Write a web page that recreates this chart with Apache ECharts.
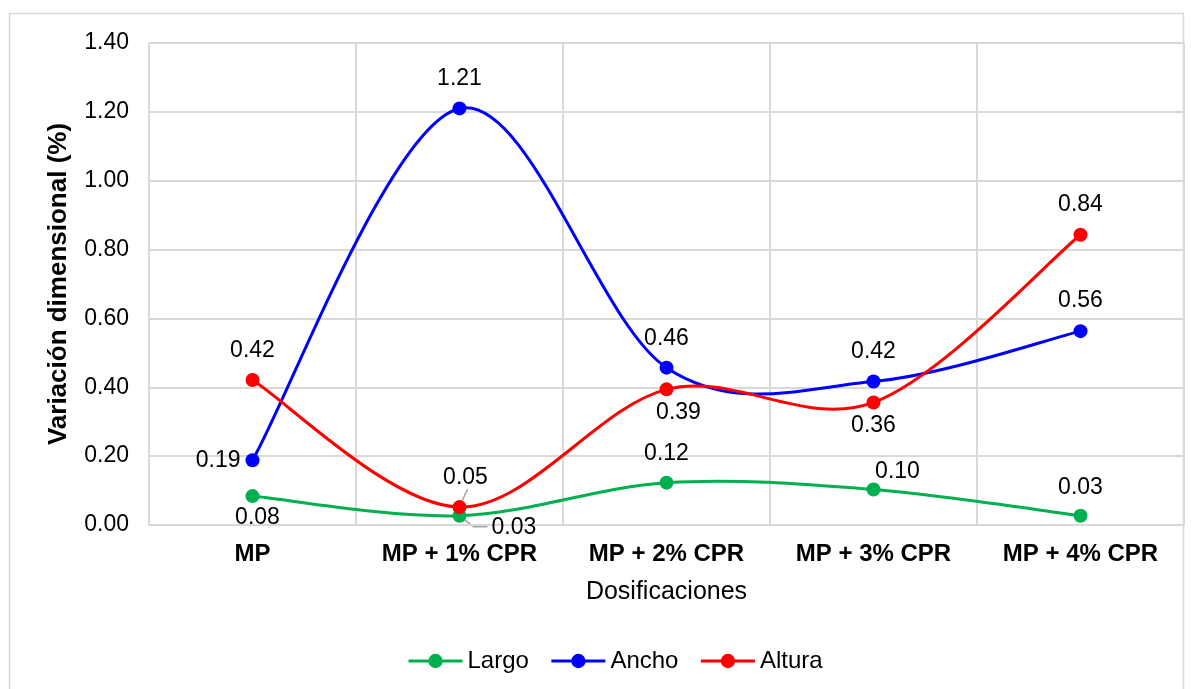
<!DOCTYPE html>
<html>
<head>
<meta charset="utf-8">
<script src="https://cdn.jsdelivr.net/npm/echarts@6/dist/echarts.min.js"></script>
<style>html,body{margin:0;padding:0;background:#fff}#c{width:1200px;height:689px}</style>
</head>
<body>
<div id="c"></div>
<script>
const categories = ['MP', 'MP + 1% CPR', 'MP + 2% CPR', 'MP + 3% CPR', 'MP + 4% CPR'];
const seriesNames = ['Largo', 'Ancho', 'Altura'];
const largo = [0.084, 0.027, 0.123, 0.103, 0.027];
const ancho = [0.188, 1.21, 0.457, 0.417, 0.563];
const altura = [0.421, 0.052, 0.394, 0.356, 0.843];
const yTicks = { min: 0, max: 1.4, interval: 0.2 };

// label placement (style, kept apart from data)
const largoLabelPos = [['bottom', [5, -2]], ['right', [20, 12]], ['top', [0, -5]], ['top', [24, 6]], ['top', [0, -5]]];
const anchoLabelPos = [['left', [0, 0]], ['top', [0, -6]], ['top', [0, -6]], ['top', [0, -6]], ['top', [0, -7]]];
const alturaLabelPos = [['top', [0, -6]], ['top', [6, -6]], ['bottom', [12, 0]], ['bottom', [0, 0]], ['top', [0, -7]]];

const FONT = "'Liberation Sans', Arial, sans-serif";
const FS = 23;

function buildData(vals, pos) {
  return vals.map((v, i) => ({
    value: v,
    label: { position: pos[i][0], offset: pos[i][1] }
  }));
}

// Smoothed curve (Catmull-Rom style, as spreadsheet "smoothed line") through the axis scales
function curveSeries(name, vals, color) {
  return {
    name: name + ' (curva)',
    type: 'custom',
    silent: true,
    data: vals.map((v, i) => [i, v]),
    renderItem: function (params, api) {
      if (params.dataIndex !== 0) return null;
      const P = vals.map((v, i) => api.coord([i, v]));
      const n = P.length;
      const g = k => P[Math.max(0, Math.min(n - 1, k))];
      let d = 'M' + P[0][0] + ' ' + P[0][1];
      for (let i = 0; i < n - 1; i++) {
        const p0 = g(i - 1), p1 = g(i), p2 = g(i + 1), p3 = g(i + 2);
        const c1 = [p1[0] + (p2[0] - p0[0]) / 6, p1[1] + (p2[1] - p0[1]) / 6];
        const c2 = [p2[0] - (p3[0] - p1[0]) / 6, p2[1] - (p3[1] - p1[1]) / 6];
        d += ' C' + c1[0] + ' ' + c1[1] + ' ' + c2[0] + ' ' + c2[1] + ' ' + p2[0] + ' ' + p2[1];
      }
      return {
        type: 'path',
        shape: { pathData: d },
        style: { fill: 'none', stroke: color, lineWidth: 3, lineJoin: 'round', lineCap: 'round' }
      };
    }
  };
}

function pointSeries(name, vals, pos, color) {
  return {
    name: name,
    type: 'line',
    data: buildData(vals, pos),
    symbol: 'circle',
    symbolSize: 14,
    lineStyle: { color: color, width: 3, opacity: 0 },
    itemStyle: { color: color },
    label: {
      show: true,
      color: '#000',
      fontFamily: FONT,
      fontSize: FS,
      distance: 5,
      formatter: p => p.value.toFixed(2)
    }
  };
}

const chart = echarts.init(document.getElementById('c'), null, { renderer: 'canvas' });
chart.setOption({
  animation: false,
  backgroundColor: '#fff',
  grid: { left: 149, right: 16, top: 43, bottom: 164, containLabel: false },
  legend: {
    bottom: 11,
    left: 402,
    itemWidth: 54,
    itemHeight: 18,
    itemGap: 21,
    lineStyle: { width: 3, opacity: 1 },
    textStyle: { fontFamily: FONT, fontSize: 24, color: '#000' },
    data: seriesNames
  },
  xAxis: {
    type: 'category',
    data: categories,
    boundaryGap: true,
    name: 'Dosificaciones',
    nameLocation: 'middle',
    nameGap: 55,
    nameTextStyle: { fontFamily: FONT, fontSize: 25, color: '#000' },
    axisLine: { show: true, lineStyle: { color: '#d9d9d9', width: 2 } },
    axisTick: { show: false },
    axisLabel: { fontFamily: FONT, fontSize: 24, fontWeight: 'bold', color: '#000', margin: 17 },
    splitLine: { show: true, lineStyle: { color: '#d9d9d9', width: 2 } }
  },
  yAxis: {
    type: 'value',
    min: yTicks.min,
    max: yTicks.max,
    interval: yTicks.interval,
    name: 'Variación dimensional (%)',
    nameLocation: 'middle',
    nameGap: 77,
    nameTextStyle: { fontFamily: FONT, fontSize: 26, fontWeight: 'bold', color: '#000' },
    axisLine: { show: false },
    axisTick: { show: false },
    axisLabel: { fontFamily: FONT, fontSize: FS, color: '#000', margin: 20, formatter: v => v.toFixed(2) },
    splitLine: { show: true, lineStyle: { color: '#d9d9d9', width: 2 } }
  },
  series: [
    curveSeries(seriesNames[0], largo, '#00B050'),
    pointSeries(seriesNames[0], largo, largoLabelPos, '#00B050'),
    curveSeries(seriesNames[1], ancho, '#0000FF'),
    pointSeries(seriesNames[1], ancho, anchoLabelPos, '#0000FF'),
    curveSeries(seriesNames[2], altura, '#FF0000'),
    pointSeries(seriesNames[2], altura, alturaLabelPos, '#FF0000')
  ]
});

// outer frame and label leader lines, anchored on the library's scales
const pL = chart.convertToPixel({ xAxisIndex: 0, yAxisIndex: 0 }, [1, largo[1]]);
const pA = chart.convertToPixel({ xAxisIndex: 0, yAxisIndex: 0 }, [1, altura[1]]);
chart.setOption({
  graphic: [{
    type: 'rect',
    shape: { x: 9.5, y: 13.5, width: 1174, height: 700 },
    style: { fill: 'none', stroke: '#d9d9d9', lineWidth: 1.5 },
    z: -1
  }, {
    type: 'polyline',
    shape: { points: [[pL[0] + 5, pL[1] + 4], [pL[0] + 14, pL[1] + 11], [pL[0] + 28, pL[1] + 11]] },
    style: { stroke: '#a6a6a6', lineWidth: 1.5, fill: 'none' }
  }, {
    type: 'line',
    shape: { x1: pA[0] + 3, y1: pA[1] - 7, x2: pA[0] + 8, y2: pA[1] - 18 },
    style: { stroke: '#a6a6a6', lineWidth: 1.5 }
  }]
});
</script>
</body>
</html>
